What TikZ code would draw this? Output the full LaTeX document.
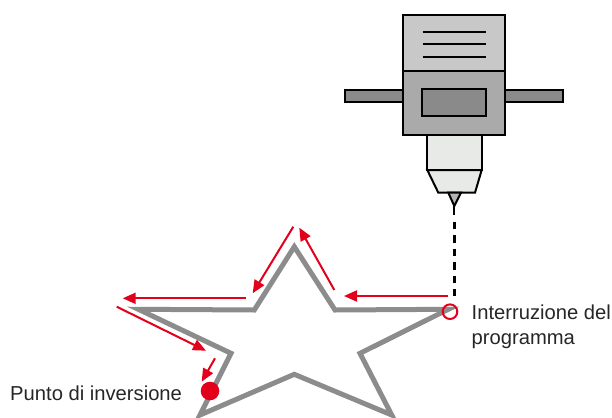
\documentclass[tikz,border=0pt]{standalone}
\usepackage{fontspec}
\setmainfont{Liberation Sans}
\usetikzlibrary{arrows.meta}
\definecolor{redmark}{HTML}{E3001B}
\definecolor{pathgray}{HTML}{8C8C8C}
\definecolor{headlight}{HTML}{C8C8C8}
\definecolor{headmid}{HTML}{AAAAAA}
\definecolor{headdark}{HTML}{8A8A8A}
\definecolor{nozzle}{HTML}{E8EAE8}
\definecolor{tipgray}{HTML}{B4B4B4}
\tikzset{
  part/.style={draw=black, line width=2pt, line join=miter},
  move/.style={draw=redmark, line width=2pt, -{Triangle[length=13pt,width=11pt]}},
  label/.style={font=\fontsize{20.2}{25}\selectfont, text=black!85, inner sep=0pt}
}
\begin{document}
\begin{tikzpicture}[x=1pt,y=-1pt]
\useasboundingbox (0,0) rectangle (612,417);

% ---- print head ----
\draw[part, fill=headdark] (345,90) rectangle (563,101.7);
\draw[part, fill=headmid] (403.3,70.7) rectangle (505,135);
\draw[part, fill=headlight] (403.3,15) rectangle (505,70.7);
\foreach \yy in {32.3,44.3,57.3}
  \draw[line width=2pt] (422.7,\yy) -- (485.7,\yy);
\draw[part, fill=headdark] (422.3,89.3) rectangle (486,116);
\draw[part, fill=nozzle] (427.3,135) rectangle (481.7,170);
\draw[part, fill=nozzle] (427.3,170) -- (481.7,170) -- (475,192.7) -- (438.3,192.7) -- cycle;
\draw[part, fill=tipgray] (448.3,192.7) -- (461,192.7) -- (454.3,206) -- cycle;
\coordinate (tip) at (454.3,206);
\coordinate (tipend) at (454.3,215);
\coordinate (start) at (454.3,296);
\draw[line width=2pt] (tip) -- (tipend);
\draw[line width=2.5pt, dash pattern=on 7.5pt off 6pt] (454.3,221.7) -- (start);

% ---- star path ----
\draw[pathgray, line width=5pt, line join=miter]
  (294.3,246.7) -- (335,310) -- (448.3,309.3) -- (360,353.3) -- (391.7,415)
  -- (294.3,374.3) -- (200,415) -- (231,353.3) -- (138.3,309.3)
  -- (254.3,310) -- cycle;

% ---- tool travel ----
\draw[move] (448.3,296) -- (344,296);
\draw[move] (334.3,290) -- (299.3,227.7);
\draw[move] (293.3,226.7) -- (252.7,293.3);
\draw[move] (245.7,298.3) -- (122.7,298.3);
\draw[move] (116.7,306.7) -- (206,350.7);
\draw[move] (215,358.3) -- (201.7,381.7);

% ---- markers ----
\draw[redmark, line width=2pt] (450,311.7) circle (7.3);
\fill[redmark] (210,391) circle (9.3);

% ---- labels ----
\node[label, anchor=base west] (stop) at (471.5,319) {Interruzione del};
\node[label, anchor=base west] (stop2) at (471.5,344) {programma};
\node[label, anchor=base west] (turn) at (10,400) {Punto di inversione};
\end{tikzpicture}
\end{document}
